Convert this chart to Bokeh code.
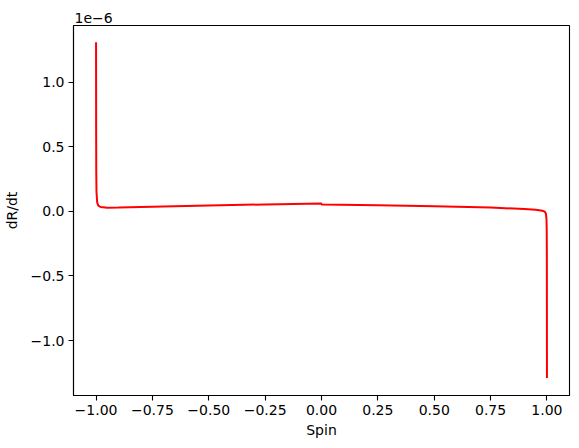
from bokeh.plotting import figure
from bokeh.models import Range1d, CustomJSTickFormatter, FixedTicker
from bokeh.embed import file_html
from bokeh.resources import INLINE

spin = [-1.0, -0.9995, -0.999, -0.998, -0.995, -0.99, -0.98, -0.95, -0.9,
        -0.75, -0.5, -0.25, 0.0, 0.0, 0.25, 0.5, 0.75, 0.9, 0.95, 0.98,
        0.99, 0.995, 0.998, 0.999, 0.9995, 1.0]
dRdt_e6 = [1.31, 0.60, 0.30, 0.15, 0.07, 0.045, 0.034, 0.029, 0.030,
           0.036, 0.045, 0.054, 0.062, 0.054, 0.047, 0.039, 0.030, 0.018,
           0.012, 0.005, -0.002, -0.015, -0.06, -0.15, -0.35, -1.29]
dRdt = [v * 1e-6 for v in dRdt_e6]

x_ticks = [-1.0, -0.75, -0.5, -0.25, 0.0, 0.25, 0.5, 0.75, 1.0]
y_ticks = [-1.0e-6, -0.5e-6, 0.0, 0.5e-6, 1.0e-6]

FONT = "DejaVu Sans"

p = figure(width=579, height=448, output_backend="svg", toolbar_location=None,
           x_range=Range1d(-1.1, 1.1), y_range=Range1d(-1.426e-6, 1.44e-6),
           min_border_left=73, min_border_right=10, min_border_top=25,
           min_border_bottom=53)

p.line(spin, dRdt, line_color="red", line_width=2)

p.title.text = "1e\u22126"
p.title.align = "left"
p.title.text_font = FONT
p.title.text_font_size = "14px"
p.title.text_font_style = "normal"
p.title.text_color = "black"
p.title.offset = 1
p.title.standoff = 6

p.xgrid.visible = False
p.ygrid.visible = False
p.outline_line_color = "black"
p.outline_line_width = 1.1
p.outline_line_alpha = 1

for ax in (p.xaxis[0], p.yaxis[0]):
    ax.major_tick_in = 0
    ax.major_tick_out = 5
    ax.minor_tick_out = 0
    ax.minor_tick_in = 0
    ax.axis_line_color = "black"
    ax.axis_line_width = 1.1
    ax.major_tick_line_width = 1.1
    ax.major_tick_line_color = "black"
    ax.major_label_text_font = FONT
    ax.major_label_text_font_size = "14px"
    ax.major_label_text_color = "black"
    ax.axis_label_text_font = FONT
    ax.axis_label_text_font_size = "14px"
    ax.axis_label_text_font_style = "normal"
    ax.axis_label_text_color = "black"

p.xaxis[0].ticker = FixedTicker(ticks=x_ticks)
p.yaxis[0].ticker = FixedTicker(ticks=y_ticks)
p.xaxis[0].formatter = CustomJSTickFormatter(
    code="return tick.toFixed(2).replace('-', '\u2212');")
p.yaxis[0].formatter = CustomJSTickFormatter(
    code="var v = tick*1e6; if (Math.abs(v) < 1e-9) v = 0; return v.toFixed(1).replace('-', '\u2212');")
p.xaxis[0].axis_label = "Spin"
p.yaxis[0].axis_label = "dR/dt"
p.xaxis[0].major_label_standoff = 4
p.yaxis[0].major_label_standoff = 4
p.xaxis[0].axis_label_standoff = 4
p.yaxis[0].axis_label_standoff = 8

open("out.html", "w").write(file_html(p, INLINE))
